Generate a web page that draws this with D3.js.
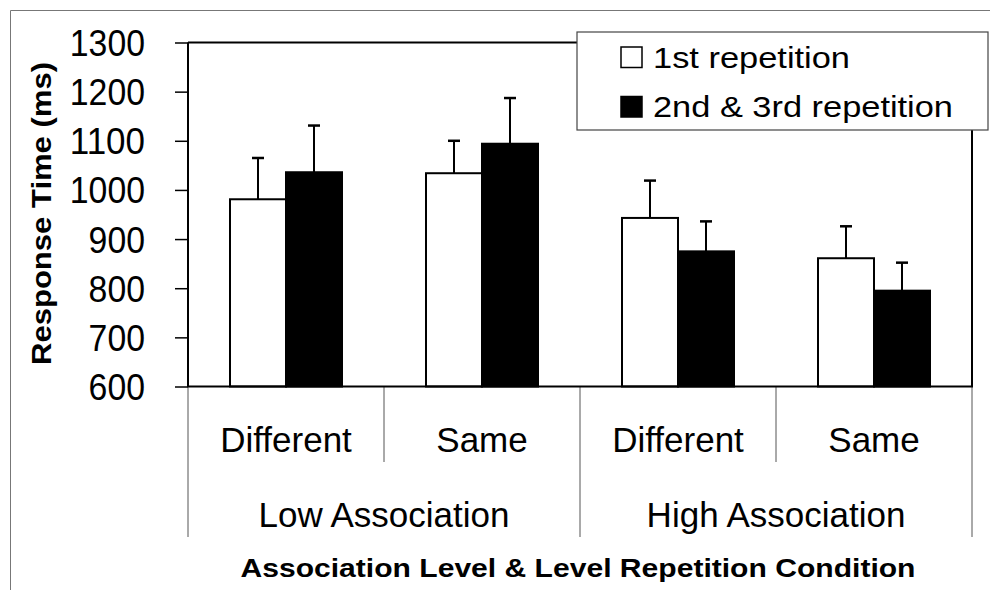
<!DOCTYPE html>
<html>
<head>
<meta charset="utf-8">
<script src="https://cdn.jsdelivr.net/npm/d3@7/dist/d3.min.js"></script>
<style>
  html, body { margin: 0; padding: 0; background: #fff; }
  svg { display: block; }
  text { font-family: "Liberation Sans", Arial, sans-serif; fill: #000; }
</style>
</head>
<body>
<svg id="chart" width="990" height="590"></svg>
<script>
// ---- data ----
const categories = ["Different", "Same", "Different", "Same"];
const groups = ["Low Association", "High Association"];
const seriesNames = ["1st repetition", "2nd & 3rd repetition"];
const firstRep = [981, 1034, 943, 861];
const firstRepErr = [84, 66, 76, 65];
const laterRep = [1036, 1094, 875, 795];
const laterRepErr = [95, 93, 61, 57];
const yTicks = [600, 700, 800, 900, 1000, 1100, 1200, 1300];
const yTitle = "Response Time (ms)";
const xTitle = "Association Level & Level Repetition Condition";

// ---- layout ----
const svg = d3.select("#chart");
const L = 188, R = 972, T = 42.5, B = 386.5;

const x0 = d3.scaleBand().domain(d3.range(categories.length)).range([L, R]).paddingInner(0).paddingOuter(0);
const x1 = d3.scaleBand().domain(d3.range(seriesNames.length)).range([0, x0.bandwidth()]).paddingInner(0).paddingOuter(0.75);
const y = d3.scaleLinear().domain([600, 1300]).range([B, T]);

const fills = ["#fff", "#000"];
const values = [firstRep, laterRep];
const errs = [firstRepErr, laterRepErr];

// outer chart frame (top & left)
svg.append("line").attr("x1", 10.5).attr("x2", 990).attr("y1", 10.5).attr("y2", 10.5).attr("stroke", "#777").attr("stroke-width", 1);
svg.append("line").attr("x1", 10.5).attr("x2", 10.5).attr("y1", 10.5).attr("y2", 590).attr("stroke", "#777").attr("stroke-width", 1);

// plot area border top/right
svg.append("line").attr("x1", L).attr("x2", R).attr("y1", T).attr("y2", T).attr("stroke", "#000").attr("stroke-width", 2);
svg.append("line").attr("x1", R).attr("x2", R).attr("y1", T).attr("y2", B).attr("stroke", "#000").attr("stroke-width", 2);

// y axis
const yAxis = d3.axisLeft(y).tickValues(yTicks).tickSize(13).tickPadding(0).tickFormat(d3.format("d"));
const ya = svg.append("g").attr("transform", `translate(${L},0)`).call(yAxis);
ya.select(".domain").remove();
ya.selectAll(".tick line").attr("stroke", "#000").attr("stroke-width", 1.5);
ya.selectAll(".tick text").remove();
ya.selectAll(".tick").append("text")
  .attr("x", -43).attr("dy", "0.36em").attr("text-anchor", "end")
  .style("font-size", "36px").attr("fill", "#000")
  .attr("textLength", d => String(d).length * 18.8).attr("lengthAdjust", "spacingAndGlyphs")
  .text(d => d);

// category separator lines
const bounds = d3.range(categories.length + 1).map(i => i < categories.length ? x0(i) : R);
bounds.forEach((bx, i) => {
  const long = (i % 2 === 0);
  svg.append("line").attr("x1", bx).attr("x2", bx).attr("y1", B).attr("y2", long ? 537 : 462)
    .attr("stroke", "#555").attr("stroke-width", 1);
});

// bars
seriesNames.forEach((s, si) => {
  const g = svg.append("g");
  // error bars
  g.selectAll("line.err").data(values[si]).enter().append("line")
    .attr("x1", (d, i) => x0(i) + x1(si) + x1.bandwidth() / 2)
    .attr("x2", (d, i) => x0(i) + x1(si) + x1.bandwidth() / 2)
    .attr("y1", d => y(d)).attr("y2", (d, i) => y(d + errs[si][i]))
    .attr("stroke", "#000").attr("stroke-width", 2);
  g.selectAll("line.cap").data(values[si]).enter().append("line")
    .attr("x1", (d, i) => x0(i) + x1(si) + x1.bandwidth() / 2 - 6)
    .attr("x2", (d, i) => x0(i) + x1(si) + x1.bandwidth() / 2 + 6)
    .attr("y1", (d, i) => y(d + errs[si][i])).attr("y2", (d, i) => y(d + errs[si][i]))
    .attr("stroke", "#000").attr("stroke-width", 2.5);
  g.selectAll("rect").data(values[si]).enter().append("rect")
    .attr("x", (d, i) => x0(i) + x1(si))
    .attr("width", x1.bandwidth())
    .attr("y", d => y(d))
    .attr("height", d => B - y(d))
    .attr("fill", fills[si]).attr("stroke", "#000").attr("stroke-width", 2);
});

// axes lines
svg.append("line").attr("x1", L).attr("x2", L).attr("y1", T).attr("y2", B).attr("stroke", "#000").attr("stroke-width", 2);
svg.append("line").attr("x1", L - 1).attr("x2", R + 1).attr("y1", B).attr("y2", B).attr("stroke", "#000").attr("stroke-width", 2);

// category labels
svg.selectAll("text.cat").data(categories).enter().append("text")
  .attr("class", "cat")
  .attr("x", (d, i) => x0(i) + x0.bandwidth() / 2)
  .attr("y", 452).attr("text-anchor", "middle")
  .style("font-size", "35px").text(d => d);

// group labels
svg.selectAll("text.grp").data(groups).enter().append("text")
  .attr("class", "grp")
  .attr("x", (d, i) => (x0(i * 2) + (i * 2 + 2 < categories.length ? x0(i * 2 + 2) : R)) / 2)
  .attr("y", 527).attr("text-anchor", "middle")
  .style("font-size", "35px").text(d => d);

// axis titles
svg.append("text")
  .attr("x", 578).attr("y", 577).attr("text-anchor", "middle")
  .style("font-size", "26px").style("font-weight", "bold")
  .attr("textLength", 675).attr("lengthAdjust", "spacingAndGlyphs")
  .text(xTitle);

svg.append("text")
  .attr("transform", `translate(51,${(T + B) / 2 - 1}) rotate(-90)`)
  .attr("text-anchor", "middle")
  .style("font-size", "28px").style("font-weight", "bold")
  .attr("textLength", 303).attr("lengthAdjust", "spacingAndGlyphs")
  .text(yTitle);

// legend
const lg = svg.append("g");
lg.append("rect").attr("x", 577).attr("y", 32).attr("width", 411).attr("height", 98)
  .attr("fill", "#fff").attr("stroke", "#444").attr("stroke-width", 1.2);
const legendWidths = [197, 300];
seriesNames.forEach((s, si) => {
  lg.append("rect").attr("x", 621).attr("y", 47 + si * 49.5).attr("width", 21).attr("height", 20.5)
    .attr("fill", fills[si]).attr("stroke", "#000").attr("stroke-width", 1.5);
  lg.append("text").attr("x", 653).attr("y", 67.5 + si * 49.5)
    .style("font-size", "29px")
    .attr("textLength", legendWidths[si]).attr("lengthAdjust", "spacingAndGlyphs")
    .text(s);
});
</script>
</body>
</html>
